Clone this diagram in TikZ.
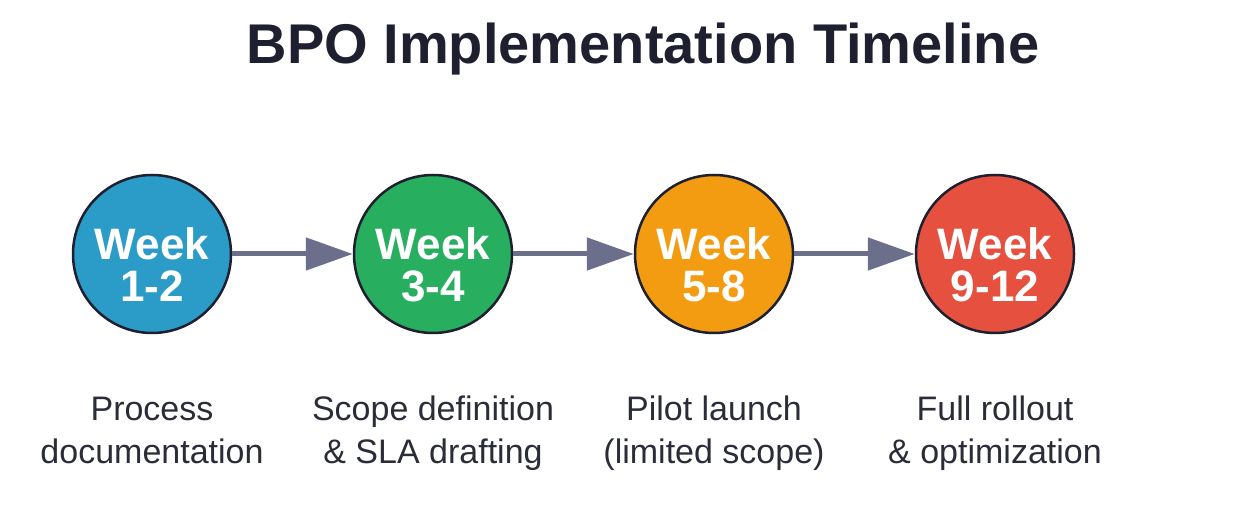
\documentclass[tikz,border=0pt]{standalone}
\usepackage{fontspec}
\setmainfont{Liberation Sans}
\usetikzlibrary{arrows.meta}
\definecolor{wkblue}{HTML}{2B9CC7}
\definecolor{wkgreen}{HTML}{27AE5F}
\definecolor{wkorange}{HTML}{F39C12}
\definecolor{wkred}{HTML}{E5503F}
\definecolor{flowgray}{HTML}{6C6F8C}
\definecolor{inkdark}{HTML}{1E2030}
\definecolor{labelink}{HTML}{2A2D38}
\begin{document}
\begin{tikzpicture}[
  x=1pt, y=1pt,
  phase/.style={circle, draw=inkdark, line width=2.5pt, minimum size=158pt, inner sep=0pt},
  phasetext/.style={align=center, text=white, font=\fontsize{44}{42}\selectfont\bfseries},
  desc/.style={align=center, text=labelink, font=\fontsize{34}{43}\selectfont,
    execute at begin node={\strut}, execute at end node={\strut}},
  flow/.style={draw=flowgray, line width=5pt, -{Triangle[length=47pt,width=32pt]}}
]
  \useasboundingbox (0,0) rectangle (1246,530);
  \node[text=inkdark, font=\fontsize{56}{60}\selectfont\bfseries] (title) at (643,481) {BPO Implementation Timeline};

  \node[phase, fill=wkblue] (p1) at (152,276) {};
  \node[phase, fill=wkgreen] (p2) at (433,276) {};
  \node[phase, fill=wkorange] (p3) at (714,276) {};
  \node[phase, fill=wkred] (p4) at (995,276) {};

  \node[phasetext] (t1) at ([yshift=-11pt]p1.center) {Week\\1-2};
  \node[phasetext] (t2) at ([yshift=-11pt]p2.center) {Week\\3-4};
  \node[phasetext] (t3) at ([yshift=-11pt]p3.center) {Week\\5-8};
  \node[phasetext] (t4) at ([yshift=-11pt]p4.center) {Week\\9-12};

  \draw[flow] (p1) -- (p2);
  \draw[flow] (p2) -- (p3);
  \draw[flow] (p3) -- (p4);

  \node[desc] (d1) at (152,93.5) {Process\\documentation};
  \node[desc] (d2) at (433,93.5) {Scope definition\\\& SLA drafting};
  \node[desc] (d3) at (714,93.5) {Pilot launch\\(limited scope)};
  \node[desc] (d4) at (995,93.5) {Full rollout\\\& optimization};
\end{tikzpicture}
\end{document}
